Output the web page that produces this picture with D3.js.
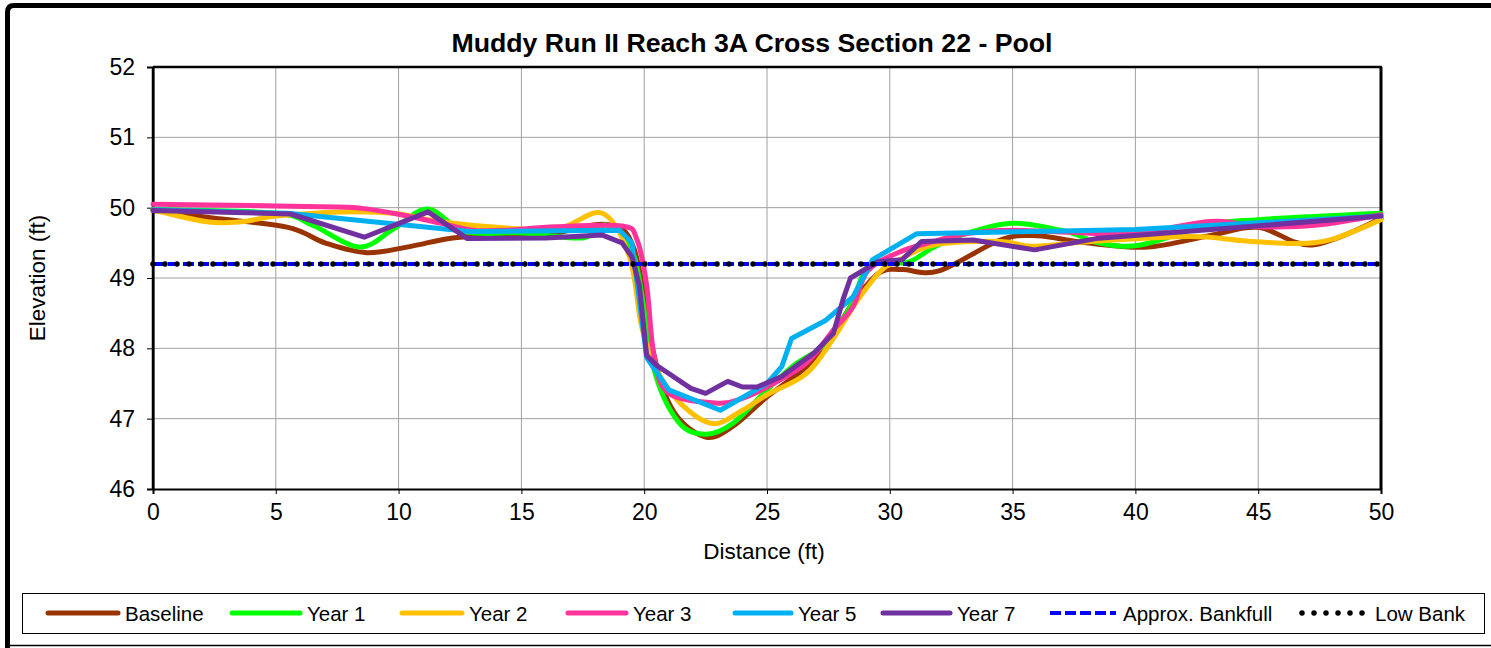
<!DOCTYPE html>
<html>
<head>
<meta charset="utf-8">
<script src="https://cdn.jsdelivr.net/npm/d3@7"></script>
<style>
  body { margin: 0; background: #fff; }
  svg { display: block; font-family: "Liberation Sans", Arial, sans-serif; }
</style>
</head>
<body>
<svg id="chart" width="1491" height="648"></svg>
<script>
// survey points [distance ft, elevation ft]
const baseline = [[0,49.96],[2.5,49.85],[5.5,49.72],[7,49.5],[8.7,49.36],[10.5,49.45],[12.5,49.58],[16,49.62],[18.5,49.76],[19.6,49.4],[20.4,47.9],[21.2,47.1],[22.5,46.74],[23.6,46.89],[25,47.31],[26.6,47.74],[27.7,48.21],[28.6,48.7],[29.6,49.08],[30.5,49.12],[32,49.1],[34.5,49.54],[36,49.6],[38,49.5],[40.5,49.44],[43,49.6],[45,49.72],[47.2,49.47],[50,49.85]];
const year1 = [[0,49.97],[5,49.92],[6.5,49.75],[8.4,49.44],[9.8,49.7],[11.2,49.98],[12.7,49.66],[15,49.64],[17.5,49.57],[18.5,49.75],[19.6,49.3],[20.4,47.7],[21.4,46.95],[22.5,46.78],[23.6,46.93],[25,47.41],[26.1,47.76],[27.4,48.07],[28.4,48.6],[29.2,49.2],[30.7,49.22],[31.8,49.44],[33.1,49.63],[35,49.78],[37.2,49.66],[38.5,49.5],[40.2,49.47],[42.9,49.75],[45,49.83],[50,49.92]];
const year2 = [[0,49.97],[2.2,49.8],[3.6,49.8],[5,49.88],[7.6,49.94],[9.8,49.92],[11.7,49.8],[14.4,49.71],[16.5,49.7],[18.3,49.92],[19.4,49.3],[19.9,48.3],[20.5,47.7],[21.5,47.21],[22.8,46.93],[24,47.12],[25,47.34],[26.6,47.64],[27.7,48.14],[28.6,48.64],[29.6,49.09],[30.4,49.26],[31.8,49.47],[34.5,49.52],[35.8,49.45],[38.2,49.52],[42.2,49.59],[44.4,49.53],[46.5,49.49],[48,49.55],[50,49.83]];
const year3 = [[0,50.05],[4,50.03],[7.5,50.01],[8.5,49.99],[10.1,49.9],[11.7,49.78],[13,49.68],[14.4,49.68],[16.4,49.73],[19.1,49.74],[19.7,49.55],[20.1,48.9],[20.4,47.9],[21,47.36],[23,47.22],[24,47.29],[25,47.45],[26.6,47.79],[27.7,48.26],[28.5,48.59],[29.1,49.1],[30.4,49.37],[31.8,49.52],[33.1,49.63],[35,49.68],[38.6,49.63],[40,49.63],[42.9,49.8],[44.1,49.78],[45,49.73],[47.3,49.75],[50,49.9]];
const year5 = [[0,49.97],[5.5,49.92],[12.9,49.66],[19,49.68],[19.5,49.5],[20.1,47.87],[21,47.41],[23.1,47.12],[25,47.5],[25.6,47.74],[26,48.14],[27.4,48.4],[28.5,48.73],[29.3,49.26],[31.1,49.63],[37,49.67],[40,49.69],[50,49.88]];
const year7 = [[0,49.96],[5.6,49.91],[8.6,49.58],[11.2,49.94],[12.8,49.56],[16,49.57],[18.3,49.61],[19.1,49.5],[19.5,49.3],[19.8,48.9],[20.1,47.9],[20.5,47.76],[21.9,47.43],[22.5,47.36],[23.4,47.53],[24,47.45],[24.6,47.45],[25.6,47.6],[26.9,47.93],[27.7,48.21],[28.1,48.7],[28.4,49.0],[29.5,49.23],[30.5,49.26],[31.3,49.52],[33.4,49.54],[35.9,49.4],[38.4,49.56],[50,49.88]];
const bankfull = [[0,49.2],[50,49.2]];
const lowBank = [[0,49.2],[50,49.2]];

const seriesNames = ["Baseline","Year 1","Year 2","Year 3","Year 5","Year 7","Approx. Bankfull","Low Bank"];
const xTicks = [0,5,10,15,20,25,30,35,40,45,50];
const yTicks = [46,47,48,49,50,51,52];

const svg = d3.select("#chart");
const mLeft = 153, mRight = 1381, mTop = 67, mBottom = 489;

const x = d3.scaleLinear().domain([0, 50]).range([mLeft, mRight]);
const y = d3.scaleLinear().domain([46, 52]).range([mBottom, mTop]);

// outer frame
svg.append("path").attr("d", "M7.5,648 L7.5,12 Q7.5,5.5 14,5.5 L1491,5.5")
    .attr("fill", "none").attr("stroke", "#000").attr("stroke-width", 5);
svg.append("line").attr("x1", 10).attr("x2", 1491).attr("y1", 645.5).attr("y2", 645.5)
    .attr("stroke", "#000").attr("stroke-width", 1.5);

// title
svg.append("text").attr("x", 752).attr("y", 52).attr("text-anchor", "middle")
    .style("font-size", "26.7px").style("font-weight", "bold")
    .text("Muddy Run II Reach 3A Cross Section 22 - Pool");

// gridlines
svg.append("g").selectAll("line").data(xTicks.slice(1, -1)).enter().append("line")
    .attr("x1", d => x(d)).attr("x2", d => x(d)).attr("y1", mTop).attr("y2", mBottom)
    .attr("stroke", "#a0a0a0").attr("stroke-width", 1);
svg.append("g").selectAll("line").data(yTicks.slice(1, -1)).enter().append("line")
    .attr("x1", mLeft).attr("x2", mRight).attr("y1", d => y(d)).attr("y2", d => y(d))
    .attr("stroke", "#a0a0a0").attr("stroke-width", 1);

// axes
const xAxis = svg.append("g").attr("transform", `translate(0,${mBottom})`)
    .call(d3.axisBottom(x).tickValues(xTicks).tickFormat(d3.format("d")).tickSize(5).tickPadding(8));
const yAxis = svg.append("g").attr("transform", `translate(${mLeft},0)`)
    .call(d3.axisLeft(y).tickValues(yTicks).tickFormat(d3.format("d")).tickSize(6).tickPadding(12));
[xAxis, yAxis].forEach(a => {
    a.selectAll("text").style("font-size", "23px").style("font-family", "Liberation Sans, Arial").attr("fill", "#000");
    a.select(".domain").attr("stroke-width", 2);
});
xAxis.selectAll("text").attr("dy", "0.8em");

// plot box top/right
svg.append("line").attr("x1", mLeft).attr("x2", mRight + 1).attr("y1", mTop).attr("y2", mTop)
    .attr("stroke", "#000").attr("stroke-width", 2.5);
svg.append("line").attr("x1", mRight).attr("x2", mRight).attr("y1", mTop).attr("y2", mBottom)
    .attr("stroke", "#000").attr("stroke-width", 3);
svg.append("line").attr("x1", mLeft).attr("x2", mLeft).attr("y1", mTop).attr("y2", mBottom)
    .attr("stroke", "#000").attr("stroke-width", 2.5);

// axis titles
svg.append("text").attr("x", 764).attr("y", 559).attr("text-anchor", "middle")
    .style("font-size", "22.5px").text("Distance (ft)");
svg.append("text").attr("transform", "translate(45,278) rotate(-90)").attr("text-anchor", "middle")
    .style("font-size", "22.5px").text("Elevation (ft)");

// series
const smooth = d3.line().x(d => x(d[0])).y(d => y(d[1])).curve(d3.curveCatmullRom.alpha(0));
const straight = d3.line().x(d => x(d[0])).y(d => y(d[1]));

const series = [
    {data: baseline, color: "#993300", gen: smooth},
    {data: year1, color: "#00ff00", gen: smooth},
    {data: year2, color: "#ffc000", gen: smooth},
    {data: year3, color: "#ff3399", gen: smooth},
    {data: year5, color: "#00b0f0", gen: straight},
    {data: year7, color: "#7030a0", gen: straight},
    {data: bankfull, color: "#0000ff", gen: straight, dash: "11,4", w: 4, cap: "butt"},
    {data: lowBank, color: "#000000", gen: straight, dash: "0,12", w: 5.5, cap: "round"}
];
series.forEach((s, i) => s.name = seriesNames[i]);

const plot = svg.append("g");
plot.selectAll("path").data(series).enter().append("path")
    .attr("d", d => d.gen(d.data))
    .attr("fill", "none")
    .attr("stroke", d => d.color)
    .attr("stroke-width", d => d.w || 5)
    .attr("stroke-linejoin", "round")
    .attr("stroke-linecap", d => d.cap || "round")
    .attr("stroke-dasharray", d => d.dash || null);

// legend
svg.append("rect").attr("x", 22.5).attr("y", 593.5).attr("width", 1462).attr("height", 40)
    .attr("fill", "#fff").attr("stroke", "#000").attr("stroke-width", 1);
const legendX = [48, 232, 402, 568, 735, 883, 1050, 1302];
const legendW = [70, 68, 60, 58, 56, 67, 66, 66];
const lg = svg.append("g").selectAll("g").data(series).enter().append("g")
    .attr("transform", (d, i) => `translate(${legendX[i]},613)`);
lg.append("line").attr("x1", 0).attr("x2", (d, i) => legendW[i]).attr("y1", 0).attr("y2", 0)
    .attr("stroke", d => d.color)
    .attr("stroke-width", d => d.w || 5)
    .attr("stroke-linecap", d => d.cap || "round")
    .attr("stroke-dasharray", d => d.dash || null);
lg.append("text").attr("x", (d, i) => legendW[i] + 7).attr("y", 7.5)
    .style("font-size", "20.5px").text(d => d.name);
</script>
</body>
</html>
